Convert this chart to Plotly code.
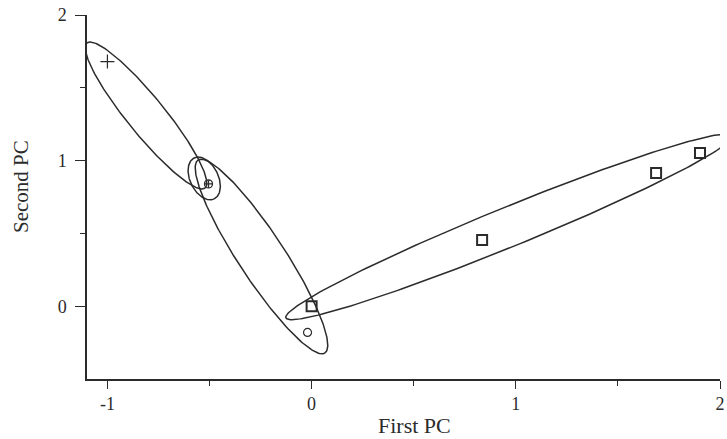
import numpy as np
import plotly.graph_objects as go

# ---- data ----
plus_x = [-1.00]
plus_y = [1.68]
cross_circle_x = [-0.505]
cross_circle_y = [0.84]
square_x = [0.00, 0.835, 1.687, 1.902]
square_y = [0.00, 0.455, 0.915, 1.052]
circle_x = [-0.02]
circle_y = [-0.18]

# ellipses: major-axis endpoints (data units) and minor/major ratio
ell_x1 = [-1.100, -0.575, -0.556, -0.126]
ell_y1 = [1.808, 1.018, 1.004, -0.080]
ell_x2 = [-0.522, -0.477, 0.065, 2.059]
ell_y2 = [0.812, 0.737, -0.321, 1.170]
ell_ratio = [0.20, 0.62, 0.20, 0.082]

x_ticks = [-1, 0, 1, 2]
y_ticks = [0, 1, 2]
x_range = [-1.1, 2.0]
y_range = [-0.5, 2.0]

W, H = 727, 439
ML, MR, MT, MB = 87, 7, 15, 60
kx = (W - ML - MR) / (x_range[1] - x_range[0])
ky = (H - MT - MB) / (y_range[1] - y_range[0])

INK = "#2b2b2b"
FONT = "Liberation Serif, Times New Roman, serif"


def ellipse(x1, y1, x2, y2, ratio, n=240):
    p1 = np.array([x1 * kx, y1 * ky])
    p2 = np.array([x2 * kx, y2 * ky])
    c = (p1 + p2) / 2
    a = (p2 - p1) / 2
    b = np.array([-a[1], a[0]]) * ratio
    t = np.linspace(0, 2 * np.pi, n)
    pts = c[:, None] + np.outer(a, np.cos(t)) + np.outer(b, np.sin(t))
    return pts[0] / kx, pts[1] / ky


fig = go.Figure()

for i in range(len(ell_x1)):
    ex, ey = ellipse(ell_x1[i], ell_y1[i], ell_x2[i], ell_y2[i], ell_ratio[i])
    fig.add_trace(go.Scatter(x=ex, y=ey, mode="lines",
                             line=dict(color=INK, width=1.5),
                             hoverinfo="skip", showlegend=False))

fig.add_trace(go.Scatter(x=plus_x, y=plus_y, mode="markers", showlegend=False,
                         marker=dict(symbol="cross-thin", size=10,
                                     line=dict(color=INK, width=1.2))))
fig.add_trace(go.Scatter(x=cross_circle_x, y=cross_circle_y, mode="markers", showlegend=False,
                         marker=dict(symbol="circle-cross-open", size=8, color=INK,
                                     line=dict(color=INK, width=1.3))))
fig.add_trace(go.Scatter(x=square_x, y=square_y, mode="markers", showlegend=False,
                         marker=dict(symbol="square-open", size=10, color=INK,
                                     line=dict(color=INK, width=2))))
fig.add_trace(go.Scatter(x=circle_x, y=circle_y, mode="markers", showlegend=False,
                         marker=dict(symbol="circle-open", size=8, color=INK,
                                     line=dict(color=INK, width=1.2))))

axis_common = dict(showgrid=False, zeroline=False, showline=True, automargin=False,
                   linecolor=INK, linewidth=1.5, ticks="outside",
                   tickcolor=INK, tickwidth=1.3,
                   tickfont=dict(family=FONT, size=18, color=INK))

fig.update_xaxes(range=x_range, tickvals=x_ticks, ticktext=[str(v) for v in x_ticks],
                 ticklen=8,
                 minor=dict(tickvals=[-0.5, 0.5, 1.5], ticks="outside", ticklen=5,
                            tickcolor=INK, tickwidth=1.2),
                 **axis_common)
fig.update_yaxes(range=y_range, tickvals=y_ticks, ticktext=[str(v) for v in y_ticks],
                 ticklen=10, ticklabelstandoff=5,
                 minor=dict(tickvals=[0.5, 1.5], ticks="outside", ticklen=5,
                            tickcolor=INK, tickwidth=1.2),
                 **axis_common)

plot_w = W - ML - MR
plot_h = H - MT - MB
fig.add_annotation(text="First PC", xref="paper", yref="paper",
                   x=(415 - ML) / plot_w, y=0, yanchor="middle", yshift=-46,
                   showarrow=False, font=dict(family=FONT, size=22, color=INK))
fig.add_annotation(text="Second PC", xref="paper", yref="paper", textangle=-90,
                   x=(21 - ML) / plot_w, y=(H - MB - 187) / plot_h,
                   xanchor="center", yanchor="middle",
                   showarrow=False, font=dict(family=FONT, size=21, color=INK))

fig.update_layout(width=W, height=H,
                  margin=dict(l=ML, r=MR, t=MT, b=MB),
                  paper_bgcolor="white", plot_bgcolor="white",
                  showlegend=False)

fig.write_html("out.html", config={"displayModeBar": False},
               post_script="document.body.style.margin='0';document.body.style.overflow='hidden';")
